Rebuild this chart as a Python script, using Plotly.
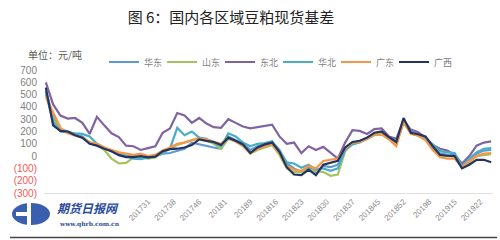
import plotly.graph_objects as go

# category index (every 2nd week sampled), tick labels
idx = list(range(0, 123, 2))
tick_pos = [28, 35, 42, 49, 56, 63, 70, 77, 84, 91, 98, 105, 112, 119]
tick_labels = ["201731", "201738", "201746", "20181", "20189", "201816", "201823",
               "201830", "201837", "201845", "201852", "20198", "201915", "201922"]

huadong = [530, 320, 220, 200, 180, 160, 110, 90, 65, 40, 15, 0, 0, -10, -15, 0, 20, 25, 45, 60,
           110, 95, 80, 70, 60, 160, 130, 100, 50, 80, 100, 115, 50, -60, -100, -130, -90, -130, -80, -90,
           -70, 60, 105, 120, 150, 180, 190, 150, 110, 300, 195, 175, 150, 85, 20, 10, 10, -85, -30, 20,
           45, 50]
shandong = [500, 300, 215, 195, 170, 150, 115, 90, 50, -20, -60, -55, -10, -5, -20, -10, 30, 60, 90, 110,
            130, 150, 125, 100, 60, 140, 120, 80, 20, 50, 70, 90, 10, -100, -130, -130, -110, -120, -130, -160,
            -150, 40, 100, 115, 145, 170, 175, 140, 100, 270, 190, 165, 140, 70, 10, 0, 0, -90, -50, 0,
            10, 15]
dongbei = [600, 420, 330, 305, 310, 270, 180, 320, 250, 185, 155, 85, 80, 50, 65, 80, 190, 225, 350, 330,
           270, 310, 265, 235, 230, 300, 270, 240, 225, 235, 240, 255, 160, 100, 110, 25, 80, 50, 75, 30,
           -20, 110, 210, 205, 180, 220, 225, 160, 140, 290, 215, 195, 150, 90, 60, 45, 10, -60, 0, 85,
           110, 120]
huabei = [520, 280, 200, 190, 185, 180, 160, 100, 70, 40, 20, 0, -20, -25, -15, 0, 30, 60, 230, 170,
          200, 150, 140, 110, 80, 185, 160, 110, 80, 100, 105, 120, 40, -50, -60, -95, -70, -110, -100, -120,
          -100, 50, 95, 110, 140, 175, 185, 150, 120, 280, 200, 170, 145, 95, 40, 30, 25, -80, -20, 30,
          60, 65]
guangdong = [480, 350, 230, 185, 170, 150, 110, 100, 70, 50, 30, 20, 10, 20, 0, 10, 45, 70, 100, 110,
             130, 145, 135, 120, 100, 150, 115, 85, 30, 60, 80, 100, 20, -80, -110, -120, -80, -100, -40, -30,
             -20, 60, 110, 115, 140, 175, 180, 135, 80, 280, 180, 165, 130, 50, -10, -20, -20, -90, -40, 0,
             20, 25]
guangxi = [557, 250, 205, 200, 170, 150, 100, 85, 60, 40, 8, -8, -8, 0, -10, -5, 40, 57, 60, 70,
           90, 135, 124, 115, 90, 150, 125, 95, 25, 70, 95, 110, 35, -90, -150, -155, -110, -155, -70, -55,
           -38, 70, 115, 125, 150, 190, 200, 155, 115, 310, 190, 178, 160, 80, 10, 3, 0, -100, -70, -30,
           -30, -50]

series = [("华东", huadong, "#5B9BD5"),
          ("山东", shandong, "#A5C261"),
          ("东北", dongbei, "#8064A2"),
          ("华北", huabei, "#4BACC6"),
          ("广东", guangdong, "#F79646"),
          ("广西", guangxi, "#24335F")]

y_vals = [-300, -200, -100, 0, 100, 200, 300, 400, 500, 600, 700]
y_text = ['<span style="color:#F05A5A">(300)</span>', '<span style="color:#F05A5A">(200)</span>',
          '<span style="color:#F05A5A">(100)</span>', "0", "100", "200", "300", "400", "500", "600", "700"]

FONT = "Noto Sans CJK SC"
NUMFONT = "Liberation Sans"

fig = go.Figure()
for name, vals, col in series:
    fig.add_trace(go.Scatter(x=idx, y=vals, name=name, mode="lines",
                             line=dict(color=col, width=2.2)))

fig.update_layout(
    width=500, height=240,
    margin=dict(l=44, r=7, t=70, b=47, autoexpand=False),
    paper_bgcolor="white", plot_bgcolor="white",
    font=dict(family=FONT, size=10, color="#595959"),
    title=dict(text="图 6：国内各区域豆粕现货基差", x=231 / 500, xanchor="center",
               y=1 - 18 / 240, yanchor="middle", xref="container", yref="container",
               font=dict(family=FONT, size=15, color="#222222")),
    showlegend=True,
    legend=dict(orientation="h", xref="container", yref="container",
                x=104 / 500, xanchor="left", y=1 - 62 / 240, yanchor="middle",
                font=dict(family=FONT, size=9, color="#808080"),
                itemwidth=30, entrywidth=13, entrywidthmode="pixels",
                tracegroupgap=0, bgcolor="rgba(0,0,0,0)"),
    xaxis=dict(range=[-0.5, 122.5], tickvals=tick_pos, ticktext=tick_labels,
               tickangle=-45, tickfont=dict(family=NUMFONT, size=8, color="#8C8C8C"),
               showgrid=False, zeroline=False, showline=True, linecolor="#E0E0E0",
               linewidth=1, ticks=""),
    yaxis=dict(range=[-300, 700], tickvals=y_vals, ticktext=y_text,
               tickfont=dict(family=NUMFONT, size=10, color="#7F7F7F"), ticklabelstandoff=6,
               showgrid=False, zeroline=False, showline=False, ticks=""),
    annotations=[
        dict(text="单位：元/吨", xref="paper", yref="paper", x=-0.04, y=(193 - 54) / 123,
             xanchor="left", yanchor="middle", showarrow=False,
             font=dict(family=FONT, size=10, color="#595959")),
        dict(text="<b><i>期货日报网</i></b>", xref="paper", yref="paper",
             x=(55 - 44) / 449, y=(193 - 207) / 123, xanchor="left", yanchor="middle",
             showarrow=False, font=dict(family=FONT, size=12, color="#2B4C9B")),
        dict(text="<b>www.qhrb.com.cn</b>", xref="paper", yref="paper",
             x=(57 - 44) / 449, y=(193 - 224) / 123, xanchor="left", yanchor="middle",
             showarrow=False, font=dict(family="DejaVu Serif", size=6, color="#2B4C9B")),
    ],
    shapes=[
        dict(type="circle", xref="paper", yref="paper",
             x0=(12 - 44) / 449, x1=(50 - 44) / 449, y0=(193 - 225) / 123, y1=(193 - 203) / 123,
             fillcolor="#3A5FAF", line=dict(width=0)),
        dict(type="rect", xref="paper", yref="paper",
             x0=(27 - 44) / 449, x1=(31 - 44) / 449, y0=(193 - 226) / 123, y1=(193 - 201) / 123,
             fillcolor="white", line=dict(width=0)),
        dict(type="rect", xref="paper", yref="paper",
             x0=(16 - 44) / 449, x1=(27 - 44) / 449, y0=(193 - 216) / 123, y1=(193 - 212) / 123,
             fillcolor="white", line=dict(width=0)),
        dict(type="line", xref="paper", yref="paper",
             x0=(10 - 44) / 449, x1=(497 - 44) / 449, y0=(193 - 237.5) / 123, y1=(193 - 237.5) / 123,
             line=dict(color="#444444", width=1.5)),
    ],
)

fig.write_html("out.html")
